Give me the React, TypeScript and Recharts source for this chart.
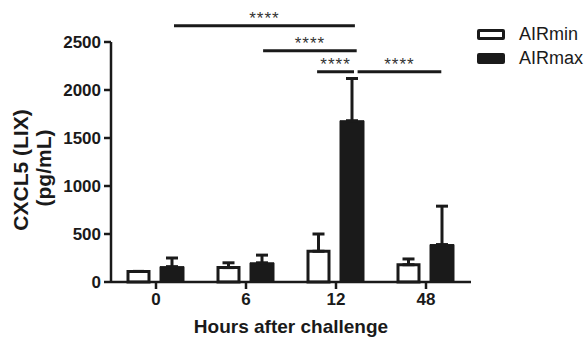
import React from 'react';
import { BarChart, Bar, XAxis, YAxis, ErrorBar, ReferenceLine } from 'recharts';

const categories = ['0', '6', '12', '48'];
const airMin = [110, 150, 320, 180];
const airMinErr = [0, 50, 180, 60];
const airMax = [160, 200, 1680, 390];
const airMaxErr = [90, 80, 440, 400];
const yTicks = [0, 500, 1000, 1500, 2000, 2500];

// significance brackets: x in category-band units (0..4), y in pg/mL
const sigBrackets = [
  { x1: 0.70, x2: 2.71, y: 2670, label: '****' },
  { x1: 1.69, x2: 2.73, y: 2410, label: '****' },
  { x1: 2.29, x2: 2.70, y: 2190, label: '****' },
  { x1: 2.74, x2: 3.67, y: 2190, label: '****' },
];

const data = categories.map((c, i) => ({
  cat: c,
  pos: i + 0.5,
  AIRmin: airMin[i],
  AIRmax: airMax[i],
  errMin: [0, airMinErr[i]],
  errMax: [0, airMaxErr[i]],
}));

const FONT = 'Liberation Sans, Arial, sans-serif';
const INK = '#1a1a1a';

const YLabel = () => (
  <g fontFamily={FONT} fontWeight="bold" fontSize={21} fill={INK}>
    <text transform="translate(28,170) rotate(-90)" textAnchor="middle">CXCL5 (LIX)</text>
    <text transform="translate(51,168) rotate(-90)" textAnchor="middle">(pg/mL)</text>
  </g>
);

const XLabel = () => (
  <text x={291} y={333} textAnchor="middle" fontFamily={FONT} fontWeight="bold" fontSize={19} fill={INK}>
    Hours after challenge
  </text>
);

const LegendBox = () => (
  <div style={{ fontFamily: FONT, fontSize: 18, color: INK }}>
    {[
      { name: 'AIRmin', fill: '#fff' },
      { name: 'AIRmax', fill: INK },
    ].map((e) => (
      <div key={e.name} style={{ display: 'flex', alignItems: 'center', height: 24 }}>
        <span
          style={{
            display: 'inline-block',
            width: 22,
            height: 5,
            background: e.fill,
            border: `3px solid ${INK}`,
            borderRadius: 2,
            marginRight: 14,
          }}
        />
        <span>{e.name}</span>
      </div>
    ))}
  </div>
);

export default function App() {
  return (
    <div style={{ position: 'absolute', left: 0, top: 0, width: 588, height: 337, background: '#fff' }}>
      <BarChart
        width={588}
        height={337}
        data={data}
        margin={{ top: 42, right: 117, bottom: 0, left: 0 }}
        barGap={11}
      >
        <XAxis
          dataKey="cat"
          height={55}
          tickSize={7}
          tickMargin={4}
          axisLine={{ stroke: INK, strokeWidth: 2.5 }}
          tickLine={{ stroke: INK, strokeWidth: 2.5 }}
          tick={{ fontFamily: FONT, fontWeight: 'bold', fontSize: 17, fill: INK }}
          label={{ content: () => <XLabel /> }}
        />
        <XAxis
          xAxisId="num"
          dataKey="pos"
          type="number"
          domain={[0, 4]}
          allowDataOverflow
          hide
        />
        <YAxis
          width={111}
          domain={[0, 2500]}
          ticks={yTicks}
          interval={0}
          tickSize={7}
          tickMargin={3}
          axisLine={{ stroke: INK, strokeWidth: 2.5 }}
          tickLine={{ stroke: INK, strokeWidth: 2.5 }}
          tick={{ fontFamily: FONT, fontWeight: 'bold', fontSize: 17, fill: INK }}
          label={{ content: () => <YLabel /> }}
        />
        <Bar dataKey="AIRmin" barSize={21} fill="#fff" stroke={INK} strokeWidth={3} isAnimationActive={false}>
          <ErrorBar dataKey="errMin" direction="y" width={6} strokeWidth={3} stroke={INK} isAnimationActive={false} />
        </Bar>
        <Bar dataKey="AIRmax" barSize={24} fill={INK} stroke={INK} strokeWidth={1} isAnimationActive={false}>
          <ErrorBar dataKey="errMax" direction="y" width={6} strokeWidth={3} stroke={INK} isAnimationActive={false} />
        </Bar>
        {sigBrackets.map((c, i) => (
          <ReferenceLine
            key={i}
            xAxisId="num"
            ifOverflow="visible"
            segment={[
              { x: c.x1, y: c.y },
              { x: c.x2, y: c.y },
            ]}
            stroke={INK}
            strokeWidth={3}
            label={{
              value: c.label,
              position: 'top',
              offset: 2,
              fill: '#333',
              fontSize: 17,
              fontFamily: FONT,
              letterSpacing: 1,
            }}
          />
        ))}
      </BarChart>
      <div style={{ position: 'absolute', left: 477, top: 22 }}>
        <LegendBox />
      </div>
    </div>
  );
}
